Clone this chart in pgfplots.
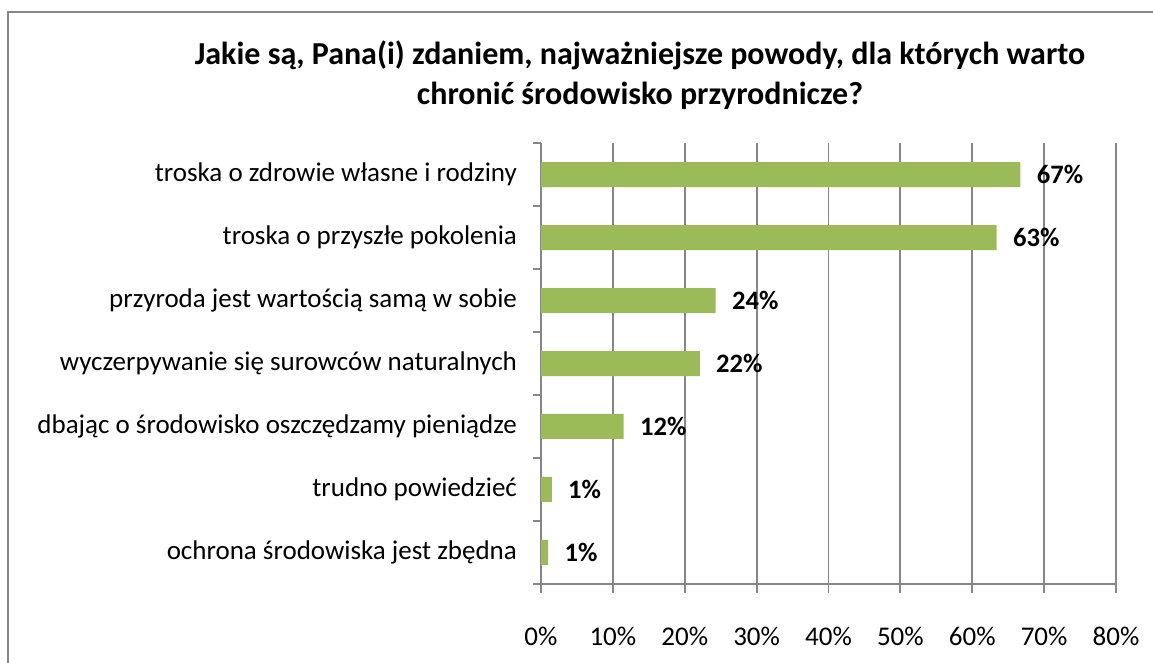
\documentclass[border=0pt]{standalone}
\usepackage{pgfplots}
\pgfplotsset{compat=1.18}
\usepackage{fontspec}
\setmainfont{Carlito}
\definecolor{bargreen}{HTML}{9BBB59}
\definecolor{gridgray}{HTML}{868686}

\begin{document}
\begin{tikzpicture}
% 1 px of the reference = 0.5pt, origin at the axis corner
\path[use as bounding box] (-270.5pt,-39.5pt) rectangle (306pt,292pt);
\draw[gridgray, line width=1pt] (-266.5pt,-45pt) rectangle (310pt,286pt);
\node[font=\bfseries\fontsize{16}{20}\selectfont, align=center] at (49.5pt,254.5pt)
  {Jakie są, Pana(i) zdaniem, najważniejsze powody, dla których warto\\chronić środowisko przyrodnicze?};
\begin{axis}[
  at={(0,0)}, anchor=south west,
  scale only axis, width=287.5pt, height=220.5pt,
  xbar, bar width=12.5pt,
  xmin=0, xmax=80, ymin=0.5, ymax=7.5,
  axis lines*=left,
  axis line style={gridgray, line width=0.9pt},
  x axis line style={shorten <=-4pt},
  xtick={0,10,...,80},
  xticklabels={0\%,10\%,20\%,30\%,40\%,50\%,60\%,70\%,80\%},
  xmajorgrids, major grid style={gridgray, line width=0.9pt},
  ytick={1,...,7},
  yticklabels={ochrona środowiska jest zbędna, trudno powiedzieć,
    dbając o środowisko oszczędzamy pieniądze,
    wyczerpywanie się surowców naturalnych,
    przyroda jest wartością samą w sobie,
    troska o przyszłe pokolenia,
    troska o zdrowie własne i rodziny},
  minor ytick={0.5,1.5,...,7.5},
  tick align=outside,
  major tick length=4.5pt, minor tick length=4pt,
  tick style={gridgray, line width=0.9pt},
  major y tick style={draw=none},
  ticklabel style={font=\fontsize{13.5}{16}\selectfont, text=black},
  yticklabel style={xshift=-4pt},
  xticklabel style={yshift=-13.5pt},
  point meta=explicit symbolic,
  nodes near coords,
  nodes near coords style={font=\bfseries\fontsize{13.3}{16}\selectfont,
    anchor=west, inner sep=0pt, xshift=8pt, text=black},
]
\addplot[fill=bargreen, draw=none] coordinates {
  (66.7,7)[67\%]
  (63.4,6)[63\%]
  (24.3,5)[24\%]
  (22.1,4)[22\%]
  (11.5,3)[12\%]
  (1.5,2)[1\%]
  (1.0,1)[1\%]
};
\end{axis}
\end{tikzpicture}
\end{document}
